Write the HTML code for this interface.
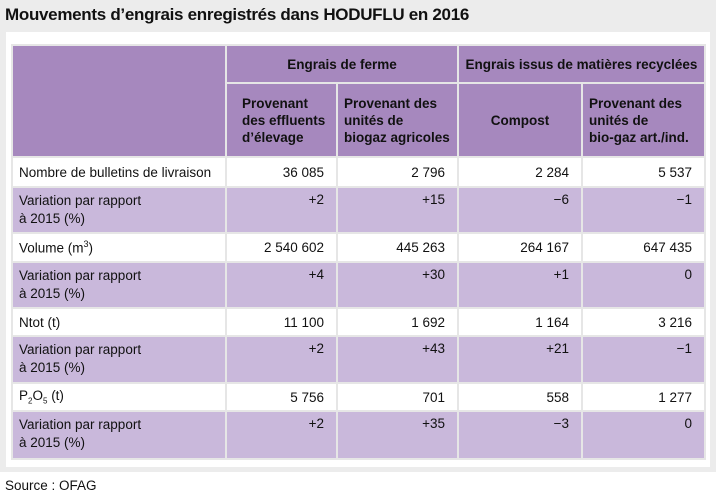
<!DOCTYPE html>
<html><head><meta charset="utf-8"><style>
body{margin:0;width:720px;height:499px;background:#fff;font-family:"Liberation Sans",sans-serif;position:relative;overflow:hidden}
#outer{position:absolute;left:0;top:0;width:716px;height:472px;background:#ececec}
#title{position:absolute;left:5px;top:5px;font-size:17px;font-weight:bold;color:#111;letter-spacing:-0.3px}
#panel{position:absolute;left:6px;top:32px;width:704px;height:435px;background:#fff}
table{position:absolute;left:11px;top:44px;border-collapse:separate;border-spacing:2px;background:#e6e6e6;font-size:13.5px;color:#111}
td{padding:0;vertical-align:top}
.h{background:#a688be;font-weight:bold}
.w{background:#fff}
.p{background:#c9b8db}
.n{text-align:right;padding-right:12px}
.l{padding-left:6px}
#src{position:absolute;left:5px;top:478px;font-size:13.5px;color:#111}
</style></head><body>
<div id="outer"></div>
<div id="title">Mouvements d’engrais enregistrés dans HODUFLU en 2016</div>
<div id="panel"></div>
<table>
<colgroup><col style="width:212px"><col style="width:109px"><col style="width:119px"><col style="width:122px"><col style="width:121px"></colgroup>
<tr style="height:36px"><td class="h" rowspan="2"></td><td class="h" colspan="2" style="text-align:center;vertical-align:middle">Engrais de ferme</td><td class="h" colspan="2" style="text-align:center;vertical-align:middle">Engrais issus de matières recyclées</td></tr>
<tr style="height:72px"><td class="h" style="vertical-align:middle;padding-left:15px;line-height:17px">Provenant<br>des effluents<br>d’élevage</td><td class="h" style="vertical-align:middle;padding-left:6px;line-height:17px">Provenant des<br>unités de<br>biogaz agricoles</td><td class="h" style="vertical-align:middle;text-align:center">Compost</td><td class="h" style="vertical-align:middle;padding-left:6px;line-height:17px">Provenant des<br>unités de<br>bio-gaz art./ind.</td></tr>
<tr style="height:28px"><td class="w l" style="vertical-align:middle">Nombre de bulletins de livraison</td><td class="w n" style="vertical-align:middle">36 085</td><td class="w n" style="vertical-align:middle">2 796</td><td class="w n" style="vertical-align:middle">2 284</td><td class="w n" style="vertical-align:middle">5 537</td></tr>
<tr style="height:44px"><td class="p l" style="padding-top:4px;line-height:18px">Variation par rapport<br>à 2015 (%)</td><td class="p n" style="padding-top:4px">+2</td><td class="p n" style="padding-top:4px">+15</td><td class="p n" style="padding-top:4px">−6</td><td class="p n" style="padding-top:4px">−1</td></tr>
<tr style="height:27px"><td class="w l" style="vertical-align:middle">Volume (m<sup style="font-size:9px">3</sup>)</td><td class="w n" style="vertical-align:middle">2 540 602</td><td class="w n" style="vertical-align:middle">445 263</td><td class="w n" style="vertical-align:middle">264 167</td><td class="w n" style="vertical-align:middle">647 435</td></tr>
<tr style="height:44px"><td class="p l" style="padding-top:4px;line-height:18px">Variation par rapport<br>à 2015 (%)</td><td class="p n" style="padding-top:4px">+4</td><td class="p n" style="padding-top:4px">+30</td><td class="p n" style="padding-top:4px">+1</td><td class="p n" style="padding-top:4px">0</td></tr>
<tr style="height:26px"><td class="w l" style="vertical-align:middle">Ntot (t)</td><td class="w n" style="vertical-align:middle">11 100</td><td class="w n" style="vertical-align:middle">1 692</td><td class="w n" style="vertical-align:middle">1 164</td><td class="w n" style="vertical-align:middle">3 216</td></tr>
<tr style="height:45px"><td class="p l" style="padding-top:4px;line-height:18px">Variation par rapport<br>à 2015 (%)</td><td class="p n" style="padding-top:4px">+2</td><td class="p n" style="padding-top:4px">+43</td><td class="p n" style="padding-top:4px">+21</td><td class="p n" style="padding-top:4px">−1</td></tr>
<tr style="height:26px"><td class="w l" style="vertical-align:middle">P<sub style="font-size:8px">2</sub>O<sub style="font-size:8px">5</sub> (t)</td><td class="w n" style="vertical-align:middle">5 756</td><td class="w n" style="vertical-align:middle">701</td><td class="w n" style="vertical-align:middle">558</td><td class="w n" style="vertical-align:middle">1 277</td></tr>
<tr style="height:46px"><td class="p l" style="padding-top:4px;line-height:18px">Variation par rapport<br>à 2015 (%)</td><td class="p n" style="padding-top:4px">+2</td><td class="p n" style="padding-top:4px">+35</td><td class="p n" style="padding-top:4px">−3</td><td class="p n" style="padding-top:4px">0</td></tr>
</table>
<div id="src">Source : OFAG</div>
</body></html>
